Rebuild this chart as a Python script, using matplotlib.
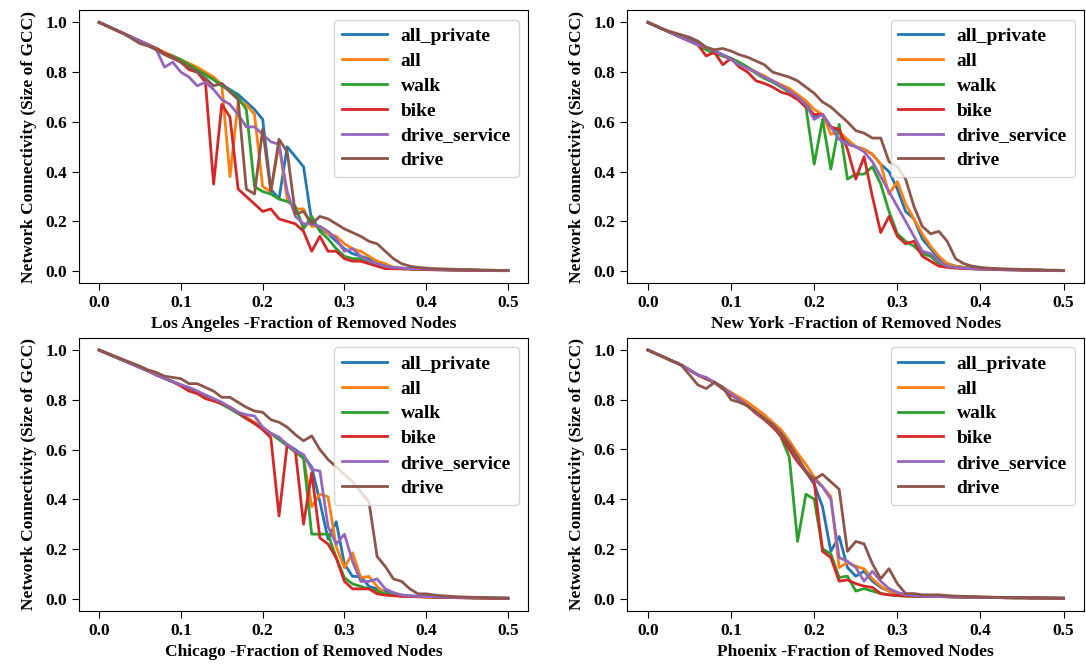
import numpy as np
import matplotlib
matplotlib.use("Agg")
from matplotlib import pyplot as plt

# fraction of removed nodes, 0.00 .. 0.50 in steps of 0.01
frac = np.round(np.arange(51) * 0.01, 2)

networks = ['all_private', 'all', 'walk', 'bike', 'drive_service', 'drive']
cities = ['Los Angeles', 'New York', 'Chicago', 'Phoenix']

# ---- Los Angeles
la_all_private = [1.00, 0.985, 0.97, 0.955, 0.94, 0.925, 0.91, 0.895, 0.875, 0.86, 0.845, 0.83, 0.81, 0.79, 0.77, 0.75, 0.73, 0.71, 0.68, 0.65, 0.61,
                  0.33, 0.29, 0.50, 0.46, 0.42, 0.20, 0.17, 0.15, 0.12, 0.09, 0.07, 0.06, 0.05, 0.03, 0.02, 0.015, 0.012, 0.01, 0.01, 0.008,
                  0.007, 0.006, 0.005, 0.005, 0.004, 0.004, 0.003, 0.003, 0.002, 0.002]
la_all = [1.00, 0.985, 0.97, 0.955, 0.94, 0.925, 0.91, 0.895, 0.88, 0.865, 0.85, 0.835, 0.82, 0.80, 0.78, 0.75,
          0.38, 0.68, 0.67, 0.63, 0.34, 0.32, 0.51, 0.29, 0.25, 0.25, 0.18, 0.18, 0.15, 0.14, 0.11, 0.09, 0.08, 0.06, 0.04, 0.03,
          0.015, 0.012, 0.01, 0.01, 0.009, 0.008, 0.007, 0.006, 0.005, 0.005, 0.004, 0.004, 0.003, 0.003, 0.002]
la_walk = [1.00, 0.985, 0.97, 0.955, 0.94, 0.925, 0.91, 0.895, 0.875, 0.865, 0.85, 0.83, 0.81, 0.79, 0.77, 0.745, 0.725, 0.70,
           0.65, 0.34, 0.32, 0.31, 0.29, 0.28, 0.26, 0.17, 0.22, 0.16, 0.13, 0.09, 0.06, 0.05, 0.05, 0.04, 0.03, 0.02, 0.012, 0.01,
           0.009, 0.008, 0.007, 0.006, 0.005, 0.005, 0.004, 0.004, 0.003, 0.003, 0.003, 0.002, 0.002]
la_bike = [1.00, 0.985, 0.97, 0.955, 0.94, 0.925, 0.91, 0.895, 0.875, 0.86, 0.84, 0.81, 0.80, 0.76,
           0.35, 0.67, 0.62, 0.33, 0.30, 0.27, 0.24, 0.25, 0.21, 0.20, 0.19, 0.16, 0.08, 0.14, 0.08, 0.08, 0.05, 0.04, 0.04, 0.03,
           0.02, 0.01, 0.01, 0.009, 0.008, 0.007, 0.006, 0.005, 0.005, 0.004, 0.004, 0.003, 0.003, 0.003, 0.002, 0.002, 0.002]
la_drive_service = [1.00, 0.985, 0.97, 0.955, 0.94, 0.925, 0.91, 0.89,
                    0.82, 0.84, 0.80, 0.78, 0.745, 0.76, 0.73, 0.69, 0.67, 0.63, 0.58, 0.58, 0.55, 0.52, 0.51, 0.32, 0.22, 0.19, 0.19, 0.18,
                    0.16, 0.13, 0.08, 0.09, 0.06, 0.04, 0.03, 0.02, 0.015, 0.012, 0.01, 0.009, 0.008, 0.007, 0.006, 0.005, 0.005, 0.004,
                    0.004, 0.003, 0.003, 0.002, 0.002]
la_drive = [1.00, 0.985, 0.97, 0.955, 0.935, 0.915, 0.905, 0.89, 0.87, 0.855, 0.84, 0.82, 0.80, 0.775, 0.745,
            0.755, 0.72, 0.69, 0.33, 0.31, 0.57, 0.32, 0.53, 0.48, 0.23, 0.24, 0.19, 0.22, 0.21, 0.19, 0.17, 0.155, 0.14, 0.12, 0.11,
            0.08, 0.05, 0.03, 0.02, 0.015, 0.012, 0.01, 0.009, 0.008, 0.007, 0.006, 0.005, 0.004, 0.004, 0.003, 0.003]

# ---- New York
ny_all_private = [1.00, 0.985, 0.97, 0.955, 0.94, 0.93, 0.915, 0.90, 0.885, 0.87, 0.855, 0.835, 0.815, 0.80, 0.78, 0.765, 0.745, 0.725, 0.705, 0.68,
                  0.62, 0.63, 0.58, 0.56, 0.52, 0.50, 0.49, 0.47, 0.43, 0.40, 0.33, 0.24, 0.21, 0.13, 0.09, 0.05, 0.03, 0.02, 0.015, 0.012,
                  0.01, 0.009, 0.008, 0.007, 0.006, 0.005, 0.004, 0.004, 0.003, 0.003, 0.002]
ny_all = [1.00, 0.985, 0.97, 0.955, 0.94, 0.925, 0.91, 0.895, 0.88, 0.865, 0.85, 0.835, 0.82, 0.80, 0.785, 0.765, 0.75, 0.735, 0.71, 0.685,
          0.65, 0.63, 0.55, 0.56, 0.53, 0.50, 0.49, 0.47, 0.43, 0.31, 0.36, 0.27, 0.21, 0.15, 0.10, 0.06, 0.03, 0.02, 0.015, 0.012,
          0.01, 0.009, 0.008, 0.007, 0.006, 0.005, 0.004, 0.004, 0.003, 0.003, 0.002]
ny_walk = [1.00, 0.985, 0.97, 0.955, 0.94, 0.925, 0.91, 0.89, 0.875, 0.865, 0.855, 0.84, 0.82, 0.795, 0.775, 0.76, 0.74, 0.72, 0.70,
           0.66, 0.43, 0.61, 0.41, 0.59, 0.37, 0.39, 0.39, 0.42, 0.35, 0.24, 0.15, 0.12, 0.10, 0.07, 0.06, 0.03, 0.02, 0.015, 0.012,
           0.01, 0.009, 0.008, 0.007, 0.006, 0.005, 0.005, 0.004, 0.004, 0.003, 0.003, 0.002]
ny_bike = [1.00, 0.985, 0.97, 0.955, 0.94, 0.925, 0.91,
           0.865, 0.88, 0.83, 0.855, 0.82, 0.80, 0.765, 0.755, 0.74, 0.72, 0.71, 0.69, 0.66, 0.63, 0.63, 0.58, 0.57, 0.49, 0.37, 0.46,
           0.30, 0.155, 0.22, 0.14, 0.11, 0.12, 0.06, 0.04, 0.02, 0.015, 0.012, 0.01, 0.009, 0.008, 0.007, 0.006, 0.005, 0.005, 0.004,
           0.004, 0.003, 0.003, 0.002, 0.002]
ny_drive_service = [1.00, 0.985, 0.97, 0.955, 0.94, 0.925, 0.91, 0.90, 0.885, 0.87, 0.85, 0.83, 0.815, 0.80, 0.78, 0.765, 0.745, 0.725, 0.70, 0.67,
                    0.61, 0.63, 0.58, 0.53, 0.51, 0.50, 0.48, 0.44, 0.38, 0.32, 0.26, 0.20, 0.14, 0.08, 0.07, 0.04, 0.02, 0.015, 0.012, 0.01,
                    0.009, 0.008, 0.007, 0.006, 0.005, 0.005, 0.004, 0.004, 0.003, 0.003, 0.002]
ny_drive = [1.00, 0.985, 0.97, 0.96, 0.95, 0.94, 0.925, 0.90, 0.89,
            0.895, 0.885, 0.87, 0.86, 0.845, 0.83, 0.80, 0.79, 0.78, 0.765, 0.74, 0.715, 0.68, 0.66, 0.63, 0.60, 0.565, 0.555, 0.535,
            0.535, 0.44, 0.42, 0.37, 0.26, 0.18, 0.15, 0.16, 0.12, 0.05, 0.03, 0.02, 0.015, 0.012, 0.01, 0.009, 0.008, 0.007, 0.006,
            0.005, 0.004, 0.004, 0.003]

# ---- Chicago
chi_all_private = [1.00, 0.986, 0.972, 0.958, 0.944, 0.93, 0.916, 0.90, 0.886, 0.873, 0.86, 0.845, 0.83, 0.815, 0.80, 0.783, 0.765, 0.745, 0.725,
                   0.705, 0.685, 0.665, 0.645, 0.62, 0.60, 0.575,
                   0.53, 0.39, 0.24, 0.31, 0.14, 0.09, 0.09, 0.05, 0.04, 0.03, 0.02, 0.015, 0.012, 0.01,
                   0.009, 0.008, 0.007, 0.006, 0.005, 0.005, 0.004, 0.004, 0.003, 0.003, 0.002]
chi_all = [1.00, 0.986, 0.972, 0.958, 0.944, 0.93, 0.916, 0.90, 0.886, 0.873, 0.86, 0.845, 0.83, 0.815, 0.80, 0.785, 0.77, 0.75, 0.73, 0.71,
           0.69, 0.665, 0.645, 0.62, 0.595, 0.57,
           0.37, 0.42, 0.41, 0.21, 0.125, 0.185, 0.085, 0.09, 0.05, 0.02, 0.015, 0.012, 0.01,
           0.009, 0.008, 0.007, 0.006, 0.005, 0.005, 0.004, 0.004, 0.003, 0.003, 0.002, 0.002]
chi_walk = [1.00, 0.986, 0.972, 0.958, 0.944, 0.93, 0.916, 0.90, 0.886, 0.873, 0.86, 0.845, 0.83, 0.815, 0.80, 0.783, 0.765, 0.745, 0.725, 0.705,
            0.685, 0.665, 0.64, 0.615, 0.59, 0.565,
            0.26, 0.26, 0.26, 0.165, 0.085, 0.06, 0.05, 0.04, 0.03, 0.02, 0.015, 0.012, 0.01,
            0.009, 0.008, 0.007, 0.006, 0.005, 0.005, 0.004, 0.004, 0.003, 0.003, 0.002, 0.002]
chi_bike = [1.00, 0.986, 0.972, 0.958, 0.944, 0.93, 0.916, 0.90, 0.886, 0.873, 0.855, 0.835, 0.825, 0.805, 0.795, 0.785, 0.77, 0.75, 0.725, 0.705, 0.68,
            0.648, 0.333, 0.62, 0.595, 0.30, 0.507, 0.245, 0.22, 0.165, 0.07, 0.04, 0.04, 0.04, 0.02, 0.015, 0.012, 0.01,
            0.009, 0.008, 0.007, 0.006, 0.005, 0.005, 0.004, 0.004, 0.003, 0.003, 0.002, 0.002, 0.002]
chi_drive_service = [1.00, 0.986, 0.972, 0.958, 0.944, 0.93, 0.916, 0.90, 0.886, 0.873, 0.86, 0.85, 0.835, 0.82, 0.805,
                     0.79, 0.77, 0.75, 0.74, 0.735, 0.69, 0.665, 0.65, 0.62, 0.595, 0.58, 0.52, 0.514, 0.29, 0.22, 0.26, 0.15, 0.07, 0.07,
                     0.08, 0.04, 0.025, 0.015, 0.012, 0.01,
                     0.009, 0.008, 0.007, 0.006, 0.005, 0.005, 0.004, 0.004, 0.003, 0.003, 0.002]
chi_drive = [1.00, 0.987, 0.974, 0.961, 0.948, 0.935, 0.92, 0.91, 0.895, 0.89, 0.885, 0.865, 0.865, 0.85, 0.835,
             0.81, 0.81, 0.79, 0.77, 0.755, 0.75, 0.72, 0.71, 0.69, 0.66, 0.635, 0.655, 0.60, 0.56, 0.53, 0.50, 0.47, 0.43, 0.39,
             0.17, 0.13, 0.08, 0.07, 0.04, 0.02, 0.02, 0.015, 0.012,
             0.01, 0.008, 0.007, 0.006, 0.005, 0.004, 0.003, 0.003]

# ---- Phoenix
phx_all_private = [1.00, 0.985, 0.97, 0.955, 0.94, 0.92, 0.90, 0.885, 0.87, 0.845, 0.82, 0.80, 0.775, 0.75, 0.725, 0.70, 0.665, 0.615, 0.56, 0.51, 0.46,
                   0.37, 0.19, 0.25, 0.125, 0.09, 0.11, 0.07, 0.045, 0.03, 0.02, 0.015, 0.012, 0.01,
                   0.009, 0.008, 0.008, 0.007, 0.006, 0.006, 0.005, 0.005, 0.004, 0.004, 0.003, 0.003, 0.003, 0.002, 0.002, 0.002, 0.001]
phx_all = [1.00, 0.985, 0.97, 0.955, 0.94, 0.92, 0.90, 0.885, 0.87, 0.85, 0.83, 0.81, 0.79, 0.765, 0.74, 0.71, 0.68, 0.635, 0.585, 0.54, 0.49, 0.45,
           0.41, 0.125, 0.145, 0.13, 0.12, 0.08, 0.05, 0.03, 0.02, 0.015, 0.012, 0.01,
           0.009, 0.008, 0.008, 0.007, 0.006, 0.006, 0.005, 0.005, 0.004, 0.004, 0.003, 0.003, 0.003, 0.002, 0.002, 0.002, 0.001]
phx_walk = [1.00, 0.985, 0.97, 0.955, 0.94, 0.92, 0.90, 0.885, 0.87, 0.845, 0.82, 0.80, 0.775, 0.75, 0.725, 0.70, 0.65, 0.57,
            0.23, 0.42, 0.40, 0.20, 0.18, 0.085, 0.09, 0.03, 0.04, 0.03, 0.02, 0.015, 0.012, 0.01,
            0.009, 0.009, 0.008, 0.008, 0.007, 0.006, 0.006, 0.005, 0.005, 0.004, 0.004, 0.003, 0.003, 0.003, 0.002, 0.002, 0.002, 0.001, 0.001]
phx_bike = [1.00, 0.985, 0.97, 0.955, 0.94, 0.92, 0.90, 0.885, 0.87, 0.845, 0.82, 0.80, 0.775, 0.745, 0.72, 0.69, 0.655, 0.60, 0.55, 0.51, 0.47,
            0.19, 0.165, 0.07, 0.075, 0.06, 0.05, 0.045, 0.02, 0.015, 0.012, 0.01,
            0.009, 0.009, 0.008, 0.008, 0.007, 0.006, 0.006, 0.005, 0.005, 0.004, 0.004, 0.003, 0.003, 0.003, 0.002, 0.002, 0.002, 0.001, 0.001]
phx_drive_service = [1.00, 0.985, 0.97, 0.955, 0.94, 0.92, 0.90, 0.89, 0.87, 0.85, 0.825, 0.80, 0.775, 0.75, 0.725, 0.70, 0.665, 0.62, 0.565, 0.515,
                     0.48, 0.45, 0.40,
                     0.165, 0.15, 0.125, 0.07, 0.11, 0.07, 0.04, 0.025, 0.015, 0.012, 0.01,
                     0.009, 0.008, 0.008, 0.007, 0.006, 0.006, 0.005, 0.005, 0.004, 0.004, 0.003, 0.003, 0.003, 0.002, 0.002, 0.002, 0.001]
phx_drive = [1.00, 0.985, 0.97, 0.955, 0.94,
             0.90, 0.86, 0.845, 0.87, 0.85, 0.80, 0.79, 0.775, 0.75, 0.725, 0.70, 0.665, 0.62, 0.57, 0.51, 0.48, 0.50, 0.47, 0.44, 0.19,
             0.23, 0.22, 0.14, 0.08, 0.12, 0.06, 0.02, 0.02, 0.015, 0.015, 0.015, 0.012, 0.01,
             0.009, 0.008, 0.007, 0.006, 0.005, 0.005, 0.004, 0.004, 0.003, 0.003, 0.002, 0.002, 0.002]

city_data = {
    'Los Angeles': [la_all_private, la_all, la_walk, la_bike, la_drive_service, la_drive],
    'New York': [ny_all_private, ny_all, ny_walk, ny_bike, ny_drive_service, ny_drive],
    'Chicago': [chi_all_private, chi_all, chi_walk, chi_bike, chi_drive_service, chi_drive],
    'Phoenix': [phx_all_private, phx_all, phx_walk, phx_bike, phx_drive_service, phx_drive],
}

plt.rcParams['font.family'] = 'serif'
plt.rcParams['font.serif'] = ['Liberation Serif', 'DejaVu Serif']
plt.rcParams['font.weight'] = 'bold'
plt.rcParams['axes.labelweight'] = 'bold'

fig = plt.figure(figsize=(10.86, 6.66), dpi=100)
# axes rectangles in figure fractions: [left, bottom, width, height]
rects = [[0.0725, 0.575, 0.414, 0.41],
         [0.5775, 0.575, 0.421, 0.41],
         [0.0725, 0.083, 0.414, 0.41],
         [0.5775, 0.083, 0.421, 0.41]]

for city, rect in zip(cities, rects):
    ax = fig.add_axes(rect)
    for name, vals in zip(networks, city_data[city]):
        ax.plot(frac, vals, label=name, linewidth=2)
    ax.set_xlabel(city + ' -Fraction of Removed Nodes', fontsize=12.5, labelpad=4)
    ax.set_ylabel('Network Connectivity (Size of GCC)', fontsize=12.5, labelpad=6)
    ax.tick_params(labelsize=12.5, length=5)
    ax.legend(loc='upper right', fontsize=14, labelspacing=0.37,
              handlelength=2.3, handletextpad=0.7)

plt.savefig('out.png', dpi=100)
